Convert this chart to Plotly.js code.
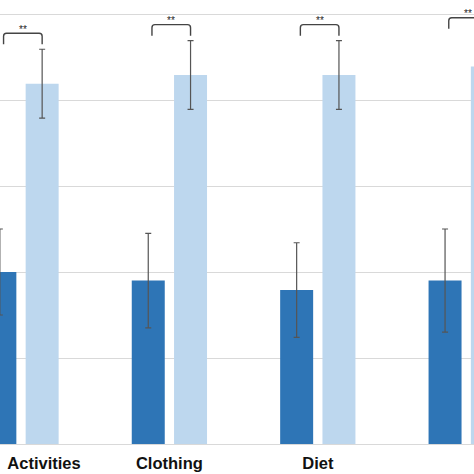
<!DOCTYPE html>
<html>
<head>
<meta charset="utf-8">
<script src="https://cdn.plot.ly/plotly-3.0.1.min.js"></script>
<style>html,body{margin:0;padding:0;background:#fff;}#chart{width:474px;height:474px;}</style>
</head>
<body>
<div id="chart"></div>
<script>
// ---- data ----
const categories = ['Activities', 'Clothing', 'Diet', 'Relationships'];
const darkValues = [2.00, 1.90, 1.79, 1.90];
const darkErrors = [0.50, 0.55, 0.55, 0.60];
const lightValues = [4.19, 4.29, 4.29, 4.39];
const lightErrors = [0.40, 0.40, 0.40, 0.38];
const significance = ['**', '**', '**', '**'];
const yTickValues = [0, 1, 2, 3, 4, 5];

// ---- layout helpers ----
const catIndex = categories.map((c, i) => i);
const firstLabelShift = 0.155; // keep first label inside the cropped view
const labelPos = catIndex.map((i) => (i === 0 ? i + firstLabelShift : i));
const slot = (1 - 0.43) / 2;
const darkOffset = -slot / 2 + 0.025;
const lightOffset = slot / 2;
const pxY = 5 / 430;

const darkColor = '#2E75B6';
const lightColor = '#BDD7EE';
const errColor = '#555555';

const traces = [
  {
    type: 'bar', x: catIndex, y: darkValues, name: 'A',
    marker: {color: darkColor},
    error_y: {type: 'data', array: darkErrors, visible: true, color: errColor, thickness: 1.2, width: 3}
  },
  {
    type: 'bar', x: catIndex, y: lightValues, name: 'B',
    marker: {color: lightColor},
    error_y: {type: 'data', array: lightErrors, visible: true, color: errColor, thickness: 1.2, width: 3}
  }
];

const shapes = [];
const annotations = [];
catIndex.forEach((i) => {
  const top = lightValues[i] + lightErrors[i];
  const yTop = top + 16 * pxY;
  const yEnd = top + 5 * pxY;
  const xl = i + darkOffset, xr = i + lightOffset;
  const rx = 3 / 148.4, ry = 3 * pxY;
  shapes.push({
    type: 'path', xref: 'x', yref: 'y',
    path: `M ${xl} ${yEnd} L ${xl} ${yTop - ry} Q ${xl} ${yTop} ${xl + rx} ${yTop} L ${xr - rx} ${yTop} Q ${xr} ${yTop} ${xr} ${yTop - ry} L ${xr} ${yEnd}`,
    line: {color: '#444444', width: 1.4}
  });
  annotations.push({
    x: (xl + xr) / 2, y: yTop + 4 * pxY, xref: 'x', yref: 'y',
    text: significance[i], showarrow: false, yanchor: 'middle',
    font: {family: 'Liberation Sans, Arial, sans-serif', size: 10, color: '#222222'}
  });
});

const layout = {
  width: 474, height: 474,
  margin: {l: 0, r: 0, t: 0, b: 30, pad: 0},
  paper_bgcolor: '#ffffff', plot_bgcolor: '#ffffff',
  barmode: 'group', bargap: 0.43, bargroupgap: 0.22,
  showlegend: false,
  xaxis: {
    type: 'linear', range: [-21 / 148.4, 453 / 148.4],
    tickmode: 'array', tickvals: labelPos, ticktext: categories,
    showgrid: false, zeroline: false, showline: false, ticks: '',
    ticklabelstandoff: 7,
    tickfont: {family: 'Liberation Sans, Arial, sans-serif', size: 16.5, color: '#111111', weight: 'bold'}
  },
  yaxis: {
    range: [0, 5 + 14 * pxY], tickmode: 'array', tickvals: yTickValues,
    showticklabels: false, showgrid: true, gridcolor: '#d9d9d9', gridwidth: 1,
    zeroline: true, zerolinecolor: '#d9d9d9', zerolinewidth: 1, showline: false, ticks: ''
  },
  shapes: shapes,
  annotations: annotations
};

Plotly.newPlot('chart', traces, layout, {displayModeBar: false, staticPlot: true});
</script>
</body>
</html>
